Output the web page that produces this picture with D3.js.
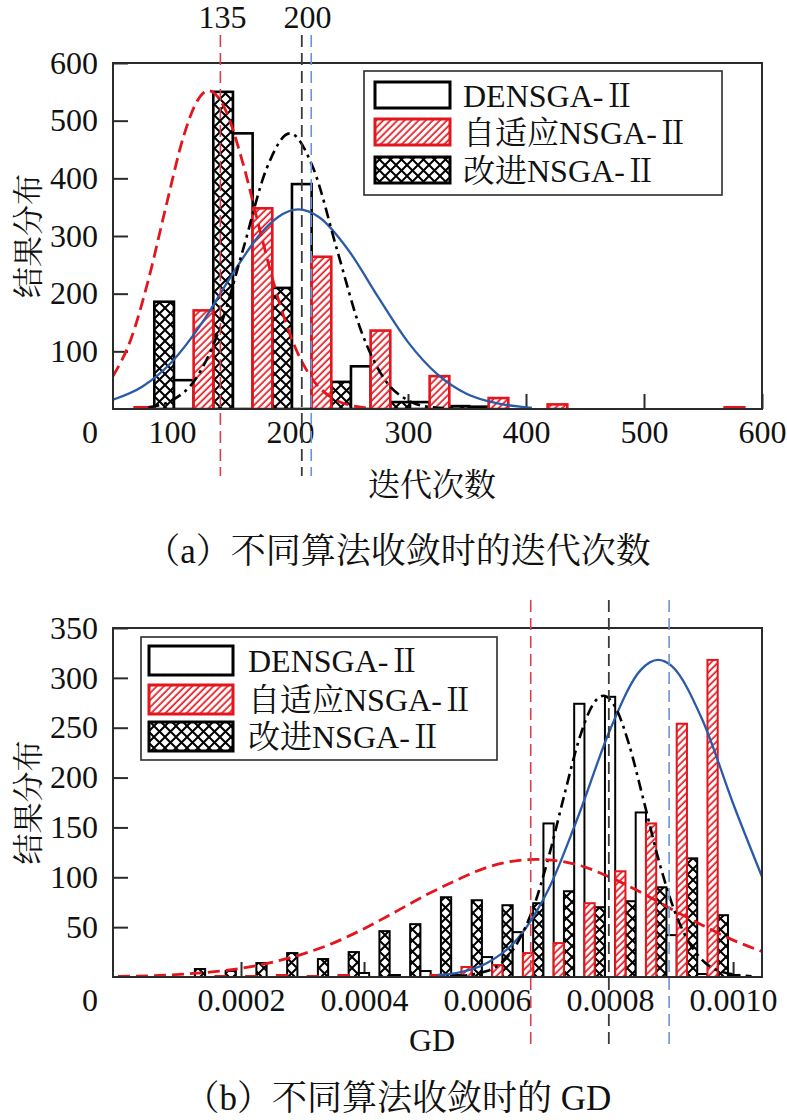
<!DOCTYPE html>
<html><head><meta charset="utf-8">
<script src="https://cdn.jsdelivr.net/npm/d3@7"></script>
<style>
html,body{margin:0;padding:0;background:#fff;}
svg{display:block;}
</style></head>
<body>
<svg id="chart" width="787" height="1120"></svg>
<script>
// ================= DATA =================
const seriesNames = ["DENSGA-Ⅱ", "自适应NSGA-Ⅱ", "改进NSGA-Ⅱ"];

// ---- (a) iterations at convergence ----
const iterBinWidth = 50;
const iterBins     = [60, 110, 160, 210, 260, 310, 360, 410, 460, 510, 560];
const iterImproved = [0, 186, 550, 210, 47, 12, 5, 0, 0, 0, 0];   // 改进NSGA-Ⅱ (cross-hatch)
const iterDENSGA   = [0, 50, 478, 390, 74, 12, 4, 0, 0, 0, 0];    // DENSGA-Ⅱ (white)
const iterAdaptive = [3, 171, 348, 264, 136, 57, 19, 8, 0, 0, 3];  // 自适应NSGA-Ⅱ (red hatch)
const iterTicksX = [100, 200, 300, 400, 500, 600];
const iterTicksY = [100, 200, 300, 400, 500, 600];
const iterFitDENSGA = [[80,3],[100,15],[120,52],[140,137],[160,275],[180,416],[200,478],[220,416],[240,275],[260,137],[280,52],[300,15],[320,3],[340,1]];
const iterFitAdaptive = [[50,57],[65,120],[80,224],[95,352],[110,474],[120,529],[131,552],[145,520],[160,427],[175,306],[190,191],[205,104],[220,49],[235,20],[250,7],[265,2]];
const iterFitImproved = [[50,16],[75,39],[100,82],[125,148],[150,230],[175,304],[190,333],[207,346],[225,332],[250,274],[275,193],[300,116],[325,60],[350,26],[375,10],[400,3],[405,2]];
const iterMarkers = [141, 210, 218];          // red, black, blue reference lines
const iterMarkerLabels = ["135", "200"];

// ---- (b) GD at convergence ----
const gdBinWidth = 0.00005;
const gdBins     = [0.00015,0.0002,0.00025,0.0003,0.00035,0.0004,0.00045,0.0005,0.00055,0.0006,0.00065,0.0007,0.00075,0.0008,0.00085,0.0009,0.00095,0.001];
const gdImproved = [8, 6, 14, 24, 18, 25, 46, 53, 80, 77, 72, 74, 86, 70, 76, 90, 119, 62];
const gdDENSGA   = [0, 0, 0, 0, 0, 4, 2, 6, 2, 20, 45, 154, 274, 281, 165, 42, 3, 2];
const gdAdaptive = [1, 1, 2, 1, 2, 0, 0, 2, 10, 12, 24, 34, 74, 106, 154, 254, 318, 0];
const gdTicksX = [0.0002, 0.0004, 0.0006, 0.0008, 0.0010];
const gdTicksY = [50, 100, 150, 200, 250, 300, 350];
const gdFitDENSGA = [[0.00055,0.6],[0.0006,6],[0.00065,35],[0.000675,69],[0.0007,120],[0.000725,181],[0.00075,239],[0.00077,271],[0.000789,282],[0.00081,269],[0.00083,235],[0.000855,176],[0.00088,115],[0.000905,66],[0.00093,33],[0.000955,14],[0.00098,5.5],[0.00103,0.6]];
const gdFitAdaptive = [[0,0.6],[0.0001,2.6],[0.0002,8.7],[0.0003,23],[0.00035,34],[0.0004,48.5],[0.00045,65],[0.0005,82],[0.00055,97],[0.0006,110],[0.00068,118],[0.00075,112],[0.0008,100],[0.00085,85],[0.0009,68],[0.00095,52],[0.001,37],[0.00105,25]];
const gdFitImproved = [[0.00052,2],[0.00055,4],[0.0006,14],[0.00065,38.5],[0.0007,88],[0.00075,164],[0.0008,248],[0.00085,308],[0.000878,318],[0.0009,312],[0.00095,258],[0.001,174],[0.00105,96]];
const gdMarkers = [0.000671, 0.000798, 0.000896];

// ================= STYLE =================
const NUM_FONT = "'Liberation Serif','Times New Roman',serif";
const MIX_FONT = "'Liberation Serif','Noto Serif CJK SC','Noto Sans CJK SC',serif";
const CJK_FONT = "'Noto Serif CJK SC','Noto Sans CJK SC',sans-serif";
const RED = "#e3161e";
const BLUE = "#2a5aa8";
const FRAME = "#2b2b2b";

const svg = d3.select("#chart");
const defs = svg.append("defs");

// red diagonal hatch
const ph = defs.append("pattern").attr("id","hatchRed").attr("patternUnits","userSpaceOnUse")
  .attr("width",5).attr("height",5).attr("patternTransform","rotate(45)");
ph.append("rect").attr("width",5).attr("height",5).attr("fill","#fff");
ph.append("line").attr("x1",1.2).attr("y1",0).attr("x2",1.2).attr("y2",5).attr("stroke",RED).attr("stroke-width",1.7);

// black cross hatch
const pc = defs.append("pattern").attr("id","crossBlack").attr("patternUnits","userSpaceOnUse")
  .attr("width",11).attr("height",11);
pc.append("rect").attr("width",11).attr("height",11).attr("fill","#fff");
pc.append("path").attr("d","M0,0L11,11M11,0L0,11").attr("stroke","#000").attr("stroke-width",2);

const seriesStyle = [
  {name: seriesNames[0], fill: "#fff", stroke: "#000"},
  {name: seriesNames[1], fill: "url(#hatchRed)", stroke: RED},
  {name: seriesNames[2], fill: "url(#crossBlack)", stroke: "#000"}
];

function drawPanel(cfg) {
  const {left, right, top, bottom} = cfg;
  const g = svg.append("g");
  const x = d3.scaleLinear().domain(cfg.xDomain).range([left, right]);
  const y = d3.scaleLinear().domain(cfg.yDomain).range([bottom, top]);

  const clipId = "clip" + cfg.id;
  defs.append("clipPath").attr("id", clipId).append("rect")
    .attr("x", left).attr("y", top).attr("width", right - left).attr("height", bottom - top);

  // axes (inside ticks)
  const gx = g.append("g").attr("transform", `translate(0,${bottom})`)
    .call(d3.axisBottom(x).tickValues(cfg.xTicks).tickSizeInner(-15).tickSizeOuter(0).tickPadding(11).tickFormat(cfg.xFormat));
  gx.select(".domain").remove();
  gx.selectAll("line").attr("stroke", FRAME).attr("stroke-width", 2);
  gx.selectAll("text").attr("font-family", NUM_FONT).attr("font-size", 32).attr("fill", "#111");

  const gy = g.append("g").attr("transform", `translate(${left},0)`)
    .call(d3.axisLeft(y).tickValues(cfg.yTicks).tickSizeInner(-15).tickSizeOuter(0).tickPadding(15));
  gy.select(".domain").remove();
  gy.selectAll("line").attr("stroke", FRAME).attr("stroke-width", 2);
  gy.selectAll("text").attr("font-family", NUM_FONT).attr("font-size", 32).attr("fill", "#111");

  // corner "0"
  g.append("text").attr("x", left - 15).attr("y", bottom + 11).attr("dy", "0.71em")
    .attr("text-anchor", "end").attr("font-family", NUM_FONT).attr("font-size", 32).attr("fill", "#111").text("0");

  // bars
  const plot = g.append("g").attr("clip-path", `url(#${clipId})`);
  const w = cfg.binWidth;
  const order = [2, 0, 1]; // cross-hatch, white, red within each bin
  order.forEach((si, pos) => {
    const vals = cfg.values[si];
    plot.append("g").selectAll("rect").data(cfg.bins.map((b, i) => ({b, v: vals[i]})).filter(d => d.v > 0))
      .join("rect")
      .attr("x", d => x(d.b - w / 2 + pos * w / 3))
      .attr("width", d => x(d.b - w / 2 + (pos + 1) * w / 3) - x(d.b - w / 2 + pos * w / 3))
      .attr("y", d => y(d.v))
      .attr("height", d => y(0) - y(d.v))
      .attr("fill", seriesStyle[si].fill)
      .attr("stroke", seriesStyle[si].stroke)
      .attr("stroke-width", cfg.barStroke);
  });

  // fitted curves
  const line = d3.line().x(d => x(d[0])).y(d => y(d[1])).curve(d3.curveMonotoneX);
  plot.append("path").attr("d", line(cfg.fits[2])).attr("fill", "none").attr("stroke", BLUE).attr("stroke-width", 2.3);
  plot.append("path").attr("d", line(cfg.fits[0])).attr("fill", "none").attr("stroke", "#000").attr("stroke-width", 2.6)
    .attr("stroke-dasharray", "11,5,3,5");
  plot.append("path").attr("d", line(cfg.fits[1])).attr("fill", "none").attr("stroke", RED).attr("stroke-width", 2.8)
    .attr("stroke-dasharray", "12,6");

  // frame
  g.append("rect").attr("x", left).attr("y", top).attr("width", right - left).attr("height", bottom - top)
    .attr("fill", "none").attr("stroke", FRAME).attr("stroke-width", 2);

  // reference lines
  const mColors = ["#d8404c", "#3a3a3a", "#6b93d6"];
  cfg.markers.forEach((m, i) => {
    g.append("line").attr("x1", x(m)).attr("x2", x(m)).attr("y1", cfg.markerTop).attr("y2", cfg.markerBottom)
      .attr("stroke", mColors[i]).attr("stroke-width", i === 1 ? 1.8 : 1.6).attr("stroke-dasharray", "12,6");
  });

  // legend
  const L = cfg.legend;
  g.append("rect").attr("x", L.x).attr("y", L.y).attr("width", L.w).attr("height", L.h)
    .attr("fill", "#fff").attr("stroke", FRAME).attr("stroke-width", 1.6);
  seriesStyle.forEach((s, i) => {
    const ry = L.rows[i];
    g.append("rect").attr("x", L.sx).attr("y", ry).attr("width", L.sw).attr("height", L.sh)
      .attr("fill", s.fill).attr("stroke", s.stroke).attr("stroke-width", 3);
    g.append("text").attr("x", L.tx).attr("y", ry + L.sh / 2).attr("dy", "0.36em")
      .attr("font-family", MIX_FONT).attr("font-size", 32).attr("fill", "#111").text(s.name);
  });

  // axis titles
  g.append("text").attr("transform", `translate(28,${(top + bottom) / 2}) rotate(-90)`)
    .attr("text-anchor", "middle").attr("dy", "0.36em").attr("font-family", CJK_FONT).attr("font-size", 31)
    .attr("fill", "#111").text("结果分布");
  g.append("text").attr("x", 432).attr("y", cfg.xTitleY).attr("text-anchor", "middle")
    .attr("font-family", cfg.xTitleFont).attr("font-size", 32).attr("fill", "#111").text(cfg.xTitle);

  g.append("text").attr("x", 398).attr("y", cfg.captionY).attr("text-anchor", "middle")
    .attr("font-family", MIX_FONT).attr("font-size", 35).attr("fill", "#111").text(cfg.caption);

  return {g, x, y};
}

// ---- panel (a) ----
const pa = drawPanel({
  id: "a", left: 113, right: 762, top: 63, bottom: 409,
  xDomain: [50, 600], yDomain: [0, 600],
  xTicks: iterTicksX, yTicks: iterTicksY, xFormat: d3.format("d"),
  bins: iterBins, binWidth: iterBinWidth, barStroke: 2.6,
  values: [iterDENSGA, iterAdaptive, iterImproved],
  fits: [iterFitDENSGA, iterFitAdaptive, iterFitImproved],
  markers: iterMarkers, markerTop: 35, markerBottom: 476,
  legend: {x: 364, y: 71, w: 358, h: 124, sx: 375, sw: 75, sh: 26, tx: 463, rows: [82, 119, 157]},
  xTitle: "迭代次数", xTitleY: 496, xTitleFont: CJK_FONT,
  caption: "（a）不同算法收敛时的迭代次数", captionY: 563
});
// marker labels for (a)
pa.g.append("text").attr("x", pa.x(iterMarkers[0]) + 2).attr("y", 28).attr("text-anchor", "middle")
  .attr("font-family", NUM_FONT).attr("font-size", 32).attr("fill", "#111").text(iterMarkerLabels[0]);
pa.g.append("text").attr("x", (pa.x(iterMarkers[1]) + pa.x(iterMarkers[2])) / 2 + 1).attr("y", 28).attr("text-anchor", "middle")
  .attr("font-family", NUM_FONT).attr("font-size", 32).attr("fill", "#111").text(iterMarkerLabels[1]);

// ---- panel (b) ----
drawPanel({
  id: "b", left: 113, right: 762, top: 628, bottom: 977,
  xDomain: [-0.0000081, 0.001047], yDomain: [0, 350],
  xTicks: gdTicksX, yTicks: gdTicksY, xFormat: d3.format(".4f"),
  bins: gdBins, binWidth: gdBinWidth, barStroke: 2,
  values: [gdDENSGA, gdAdaptive, gdImproved],
  fits: [gdFitDENSGA, gdFitAdaptive, gdFitImproved],
  markers: gdMarkers, markerTop: 600, markerBottom: 1044,
  legend: {x: 141, y: 637, w: 356, h: 123, sx: 149, sw: 84, sh: 29, tx: 248, rows: [646, 685, 722]},
  xTitle: "GD", xTitleY: 1051, xTitleFont: NUM_FONT,
  caption: "（b）不同算法收敛时的 GD", captionY: 1110
});
</script>
</body></html>
